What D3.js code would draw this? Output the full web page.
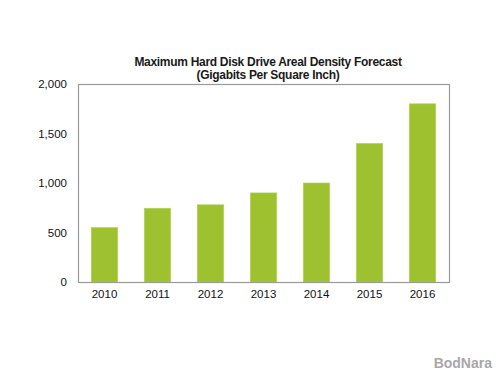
<!DOCTYPE html>
<html>
<head>
<meta charset="utf-8">
<script src="https://cdn.jsdelivr.net/npm/d3@7"></script>
<style>
  body { margin: 0; background: #fff; }
  svg { display: block; font-family: "Liberation Sans", Arial, sans-serif; }
</style>
</head>
<body>
<svg id="chart" width="500" height="375"></svg>
<script>
// data
const years  = ["2010", "2011", "2012", "2013", "2014", "2015", "2016"];
const values = [550, 745, 780, 900, 1000, 1400, 1800];
const yTicks = [0, 500, 1000, 1500, 2000];
const titleLines = ["Maximum Hard Disk Drive Areal Density Forecast", "(Gigabits Per Square Inch)"];

const svg = d3.select("#chart");
const margin = { left: 78, right: 51, top: 84, bottom: 93 };
const W = 500, H = 375;

const x = d3.scaleBand()
    .domain(years)
    .range([margin.left, W - margin.right])
    .paddingInner(0.5)
    .paddingOuter(0.25);

const y = d3.scaleLinear()
    .domain([0, 2000])
    .range([H - margin.bottom, margin.top]);

// bars
svg.append("g")
    .selectAll("rect")
    .data(values)
    .join("rect")
    .attr("x", (d, i) => x(years[i]))
    .attr("y", d => y(d))
    .attr("width", x.bandwidth())
    .attr("height", d => y(0) - y(d))
    .attr("fill", "#9dc12f")
    .attr("stroke", "#b4d35a")
    .attr("stroke-width", 0.6);

// plot frame
svg.append("rect")
    .attr("x", margin.left + 0.5)
    .attr("y", margin.top + 0.5)
    .attr("width", W - margin.right - margin.left)
    .attr("height", H - margin.bottom - margin.top)
    .attr("fill", "none")
    .attr("stroke", "#9a9a9a")
    .attr("stroke-width", 1.2);

// y axis labels
const yAxis = d3.axisLeft(y)
    .tickValues(yTicks)
    .tickSize(0)
    .tickPadding(11)
    .tickFormat(d3.format(","));
const gy = svg.append("g")
    .attr("transform", `translate(${margin.left},0)`)
    .call(yAxis);
gy.select(".domain").remove();
gy.selectAll("text")
    .attr("font-size", 11.5)
    .attr("font-family", "Liberation Sans, Arial, sans-serif")
    .attr("fill", "#111");

// x axis labels
const xAxis = d3.axisBottom(x).tickSize(0).tickPadding(8);
const gx = svg.append("g")
    .attr("transform", `translate(0,${H - margin.bottom})`)
    .call(xAxis);
gx.select(".domain").remove();
gx.selectAll("text")
    .attr("font-size", 11.5)
    .attr("font-family", "Liberation Sans, Arial, sans-serif")
    .attr("fill", "#111");

// title
svg.append("g")
    .selectAll("text")
    .data(titleLines)
    .join("text")
    .attr("x", 268)
    .attr("y", (d, i) => 66 + i * 12.5)
    .attr("text-anchor", "middle")
    .attr("font-size", 12)
    .attr("font-weight", "bold")
    .attr("letter-spacing", -0.3)
    .attr("fill", "#1a1a1a")
    .text(d => d);

// watermark
svg.append("text")
    .attr("x", 492)
    .attr("y", 368)
    .attr("text-anchor", "end")
    .attr("font-size", 14)
    .attr("font-weight", "bold")
    .attr("fill", "#a8a8a8")
    .text("BodNara");
</script>
</body>
</html>
